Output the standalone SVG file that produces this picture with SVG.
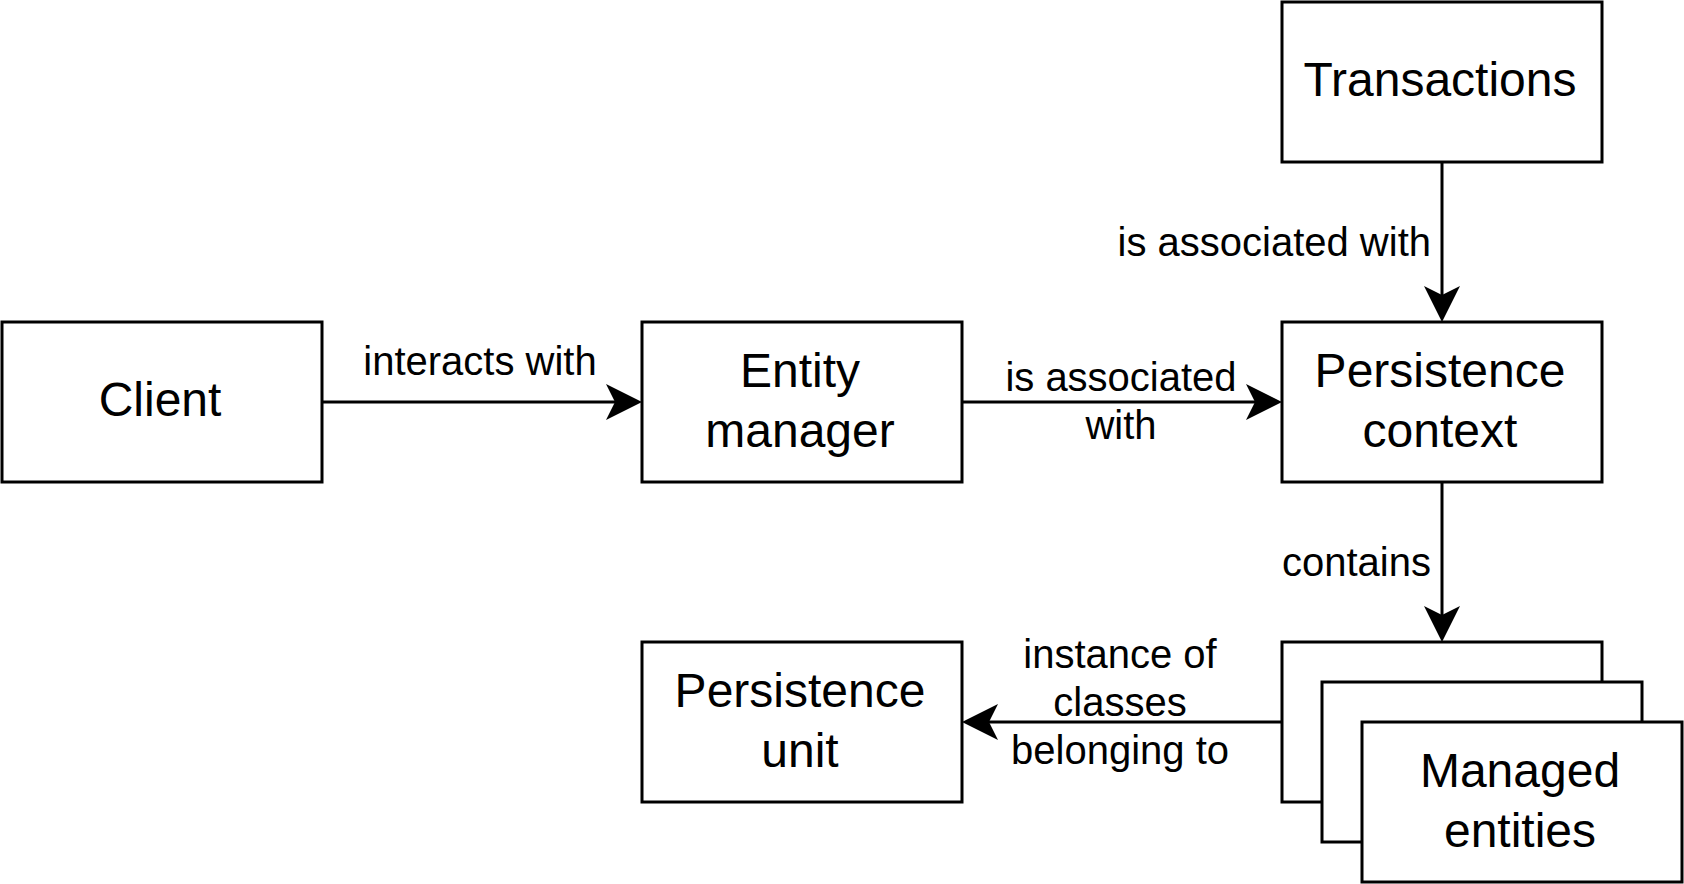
<svg xmlns="http://www.w3.org/2000/svg" width="1684" height="884" viewBox="0 0 1684 884">
<style>
.box{fill:#fff;stroke:#000;stroke-width:3}
.nt{font-family:"Liberation Sans",Arial,sans-serif;font-size:48px;fill:#000;text-anchor:middle}
.lt{font-family:"Liberation Sans",Arial,sans-serif;font-size:40px;fill:#000}
.edge{stroke:#000;stroke-width:3;fill:none}
</style>
<defs>
<marker id="arr" markerUnits="userSpaceOnUse" viewBox="0 0 36 36" markerWidth="36" markerHeight="36" refX="9" refY="18" orient="auto">
<path d="M36,18 L0,0 L9,18 L0,36 Z" fill="#000"/>
</marker>
</defs>
<rect width="1684" height="884" fill="#fff"/>
<g id="connectors">
<line class="edge" x1="322" y1="402" x2="615" y2="402" marker-end="url(#arr)"/>
<line class="edge" x1="962" y1="402" x2="1255" y2="402" marker-end="url(#arr)"/>
<line class="edge" x1="1442" y1="162" x2="1442" y2="295" marker-end="url(#arr)"/>
<line class="edge" x1="1442" y1="482" x2="1442" y2="615" marker-end="url(#arr)"/>
<line class="edge" x1="1282" y1="722" x2="989" y2="722" marker-end="url(#arr)"/>
<text class="lt" x="480" y="375" text-anchor="middle">interacts with</text>
<text class="lt" x="1121" y="391" text-anchor="middle">is associated</text>
<text class="lt" x="1121" y="439" text-anchor="middle">with</text>
<text class="lt" x="1431" y="256" text-anchor="end">is associated with</text>
<text class="lt" x="1431" y="576" text-anchor="end">contains</text>
<text class="lt" x="1120" y="668" text-anchor="middle">instance of</text>
<text class="lt" x="1120" y="716" text-anchor="middle">classes</text>
<text class="lt" x="1120" y="764" text-anchor="middle">belonging to</text>
</g>
<g id="client">
<rect class="box" x="2" y="322" width="320" height="160"/>
<text class="nt" x="160" y="416">Client</text>
</g>
<g id="entity-manager">
<rect class="box" x="642" y="322" width="320" height="160"/>
<text class="nt" x="800" y="387">Entity</text>
<text class="nt" x="800" y="446.5">manager</text>
</g>
<g id="persistence-context">
<rect class="box" x="1282" y="322" width="320" height="160"/>
<text class="nt" x="1440" y="387">Persistence</text>
<text class="nt" x="1440" y="446.5">context</text>
</g>
<g id="transactions">
<rect class="box" x="1282" y="2" width="320" height="160"/>
<text class="nt" x="1440" y="96">Transactions</text>
</g>
<g id="persistence-unit">
<rect class="box" x="642" y="642" width="320" height="160"/>
<text class="nt" x="800" y="707">Persistence</text>
<text class="nt" x="800" y="766.5">unit</text>
</g>
<g id="managed-entities">
<rect class="box" x="1282" y="642" width="320" height="160"/>
<rect class="box" x="1322" y="682" width="320" height="160"/>
<rect class="box" x="1362" y="722" width="320" height="160"/>
<text class="nt" x="1520" y="787">Managed</text>
<text class="nt" x="1520" y="846.5">entities</text>
</g>
</svg>
